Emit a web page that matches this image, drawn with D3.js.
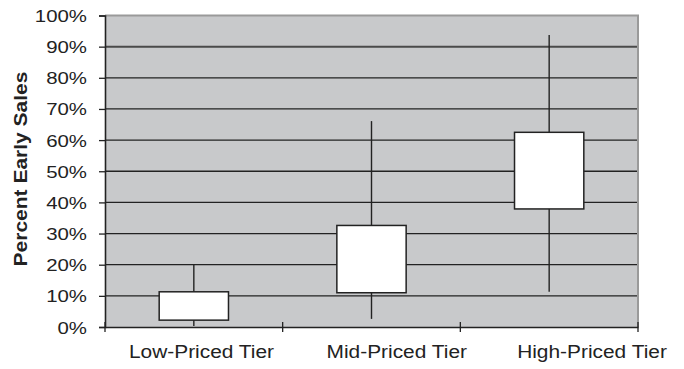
<!DOCTYPE html>
<html><head><meta charset="utf-8">
<script src="https://cdn.jsdelivr.net/npm/d3@7"></script>
<style>html,body{margin:0;padding:0;background:#fff;}svg{display:block;}</style>
</head><body>
<script>
const categories = ["Low-Priced Tier", "Mid-Priced Tier", "High-Priced Tier"];
const minVals = [0.3, 2.6, 11.3];
const q1Vals  = [2.2, 11.0, 37.9];
const q3Vals  = [11.3, 32.6, 62.5];
const maxVals = [20.0, 66.1, 93.7];
const yTicks = [0, 10, 20, 30, 40, 50, 60, 70, 80, 90, 100];
const yTitle = "Percent Early Sales";

const W = 684, H = 369;
const pLeft = 105, pRight = 638, pTop = 15.5, pBottom = 327;
const FONT = "'Liberation Sans', Arial, sans-serif";

const svg = d3.select("body").append("svg").attr("width", W).attr("height", H);

const x = d3.scaleBand().domain(categories).range([pLeft, pRight]).paddingInner(0).paddingOuter(0);
const xLabel = d3.scalePoint().domain(categories).range([201.5, 592]);
const y = d3.scaleLinear().domain([0, 100]).range([pBottom, pTop]);

// plot background
svg.append("rect").attr("x", pLeft).attr("y", pTop).attr("width", pRight - pLeft).attr("height", pBottom - pTop)
  .attr("fill", "#c8c9cb");

// gridlines
svg.append("g").selectAll("line").data(yTicks.filter(d => d > 0 && d < 100)).join("line")
  .attr("x1", pLeft).attr("x2", pRight)
  .attr("y1", d => y(d)).attr("y2", d => y(d))
  .attr("stroke", d => d === 90 ? "#4a4a4a" : "#222")
  .attr("stroke-width", d => d === 90 ? 2 : 1.3);

// top and right border
svg.append("line").attr("x1", pLeft).attr("x2", pRight + 1).attr("y1", y(100)).attr("y2", y(100))
  .attr("stroke", "#9a9a9a").attr("stroke-width", 2);
svg.append("line").attr("x1", pRight).attr("x2", pRight).attr("y1", y(100)).attr("y2", pBottom)
  .attr("stroke", "#9a9a9a").attr("stroke-width", 2);

// whiskers
const idx = d3.range(categories.length);
svg.append("g").selectAll("line").data(idx).join("line")
  .attr("x1", i => x(categories[i]) + x.bandwidth() / 2)
  .attr("x2", i => x(categories[i]) + x.bandwidth() / 2)
  .attr("y1", i => y(minVals[i])).attr("y2", i => y(maxVals[i]))
  .attr("stroke", "#222").attr("stroke-width", 1.4);

// boxes
const boxW = x.bandwidth() * 0.39;
svg.append("g").selectAll("rect").data(idx).join("rect")
  .attr("x", i => x(categories[i]) + x.bandwidth() / 2 - boxW / 2)
  .attr("width", boxW)
  .attr("y", i => y(q3Vals[i]))
  .attr("height", i => y(q1Vals[i]) - y(q3Vals[i]))
  .attr("fill", "#fff").attr("stroke", "#222").attr("stroke-width", 1.5);

// y axis
const yAxis = d3.axisLeft(y).tickValues(yTicks).tickSize(6).tickFormat(d => d + "%");
const gy = svg.append("g").attr("transform", `translate(${pLeft},0)`).call(yAxis);
gy.select(".domain").attr("stroke", "#222").attr("stroke-width", 1.6);
gy.selectAll(".tick line").attr("stroke", "#222").attr("stroke-width", 1.3);
gy.selectAll(".tick text").attr("x", 0).attr("dy", null)
  .attr("text-anchor", "end")
  .attr("font-family", FONT).attr("font-size", 17).attr("fill", "#222")
  .attr("transform", "translate(-18,6) scale(1.2,1)");

// x axis
const xAxis = d3.axisBottom(x).tickValues([]).tickSizeOuter(0);
const gx = svg.append("g").attr("transform", `translate(0,${pBottom})`).call(xAxis);
gx.select(".domain").attr("stroke", "#222").attr("stroke-width", 1.6);
const tickPos = categories.map(c => x(c)).concat([x(categories[categories.length - 1]) + x.bandwidth()]);
gx.selectAll("line.xt").data(tickPos).join("line").attr("class", "xt")
  .attr("x1", d => d).attr("x2", d => d).attr("y1", -5).attr("y2", 5)
  .attr("stroke", "#222").attr("stroke-width", 1.3);

// category labels
svg.append("g").selectAll("text").data(categories).join("text")
  .attr("transform", d => `translate(${xLabel(d)},358) scale(1.13,1)`)
  .attr("text-anchor", "middle")
  .attr("font-family", FONT).attr("font-size", 18.5).attr("fill", "#222")
  .text(d => d);

// y title
svg.append("text")
  .attr("transform", "translate(27,169) rotate(-90) scale(1.2,1)")
  .attr("text-anchor", "middle")
  .attr("font-family", FONT).attr("font-size", 17.5).attr("font-weight", "bold").attr("fill", "#222")
  .text(yTitle);
</script>
</body></html>
